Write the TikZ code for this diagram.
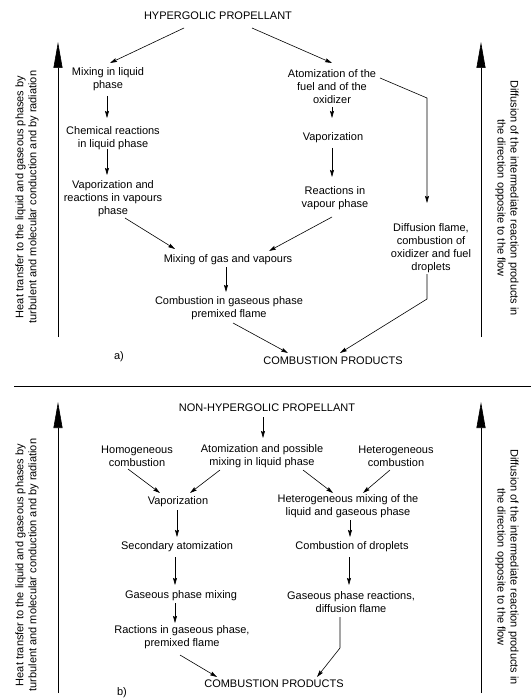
\documentclass[tikz,border=0pt]{standalone}
\usepackage{fontspec}
\setmainfont{Liberation Sans}
\usetikzlibrary{arrows.meta}
\begin{document}
\begin{tikzpicture}[x=1pt,y=-1pt,
  every node/.style={font=\fontsize{11}{13}\selectfont, align=center, inner sep=0pt},
  flow/.style={line width=0.6pt, -{Stealth[length=7pt,width=4pt,inset=1pt]}},
  plain/.style={line width=0.6pt},
  side/.style={line width=0.6pt, -{Triangle[length=26pt,width=9pt]}}]
\useasboundingbox (0,0) rectangle (531,700);

% ---------------- top section (a) ----------------
\node (hyp) at (218,16) {HYPERGOLIC PROPELLANT};
\node (mixliq) at (108,79.5) {Mixing in liquid\\phase};
\node (atom) at (332,86.5) {Atomization of the\\fuel and of the\\oxidizer};
\node (chem) at (113,138) {Chemical reactions\\in liquid phase};
\node (vapa) at (333,138) {Vaporization};
\node (vapreac) at (113,198.5) {Vaporization and\\reactions in vapours\\phase};
\node (reacvap) at (335,198.5) {Reactions in\\vapour phase};
\node (diff) at (431,248) {Diffusion flame,\\combustion of\\oxidizer and fuel\\droplets};
\node (mixgas) at (228,260) {Mixing of gas and vapours};
\node (combg) at (229,308.5) {Combustion in gaseous phase\\premixed flame};
\node (prodA) at (333,361) {COMBUSTION PRODUCTS};
\node (labA) at (119,357) {a)};

\draw[flow] ([shift={(-34,12)}]hyp.center) -- ([shift={(2,-16.5)}]mixliq.center);
\draw[flow] ([shift={(34,12)}]hyp.center) -- ([shift={(0,-23.5)}]atom.center);
\draw[flow] ([shift={(48,-8.5)}]atom.center) -- ([shift={(-4,-150)}]diff.center) -- ([shift={(-4,-45)}]diff.center);
\draw[flow] ([shift={(-1,16.5)}]mixliq.center) -- ([shift={(-6,-20)}]chem.center);
\draw[flow] ([shift={(-6,11)}]chem.center) -- ([shift={(-6,-23.5)}]vapreac.center);
\draw[flow] ([shift={(0,20.5)}]atom.center) -- ([shift={(-1,-20)}]vapa.center);
\draw[flow] ([shift={(-1,10)}]vapa.center) -- ([shift={(-3,-21.5)}]reacvap.center);
\draw[flow] ([shift={(12,19.5)}]vapreac.center) -- ([shift={(-53,-11)}]mixgas.center);
\draw[flow] ([shift={(-3,18.5)}]reacvap.center) -- ([shift={(41,-9)}]mixgas.center);
\draw[flow] ([shift={(-2,7)}]mixgas.center) -- ([shift={(-3,-16.5)}]combg.center);
\draw[flow] ([shift={(4,14.5)}]combg.center) -- ([shift={(-45,-8)}]prodA.center);
\draw[flow] ([shift={(-4,26)}]diff.center) -- ([shift={(-4,51)}]diff.center) -- ([shift={(7,-8)}]prodA.center);

\coordinate (lAb) at (58,337); \coordinate (lAt) at (58,42);
\coordinate (rAb) at (481,337); \coordinate (rAt) at (481,42);
\draw[side] (lAb) -- (lAt);
\draw[side] (rAb) -- (rAt);
\node[rotate=90] (heatA) at (27,197) {Heat transfer to the liquid and gaseous phases by\\turbulent and molecular conduction and by radiation};
\node[rotate=-90] (diffA) at (507,198) {Diffusion of the intermediate reaction products in\\the direction opposite to the flow};

% separator
\coordinate (sepL) at (14,386); \coordinate (sepR) at (531,386);
\draw[plain] (sepL) -- (sepR);

% ---------------- bottom section (b) ----------------
\node (nonhyp) at (267,408) {NON-HYPERGOLIC PROPELLANT};
\node (homog) at (137,456.5) {Homogeneous\\combustion};
\node (atom2) at (262,456.5) {Atomization and possible\\mixing in liquid phase};
\node (heterog) at (396,456.5) {Heterogeneous\\combustion};
\node (vapb) at (178,502) {Vaporization};
\node (hetmix) at (348,506.5) {Heterogeneous mixing of the\\liquid and gaseous phase};
\node (secat) at (177,547) {Secondary atomization};
\node (combdrop) at (352,547) {Combustion of droplets};
\node (gasmix) at (181,596) {Gaseous phase mixing};
\node (gasreac) at (351,602.5) {Gaseous phase reactions,\\diffusion flame};
\node (ract) at (182,637.5) {Ractions in gaseous phase,\\premixed flame};
\node (prodB) at (274,684) {COMBUSTION PRODUCTS};
\node (labB) at (122,693) {b)};

\draw[flow] ([shift={(-4,9)}]nonhyp.center) -- ([shift={(1,-18.5)}]atom2.center);
\draw[flow] ([shift={(-9,12.5)}]homog.center) -- ([shift={(-18,-9)}]vapb.center);
\draw[flow] ([shift={(-42,13.5)}]atom2.center) -- ([shift={(12,-9)}]vapb.center);
\draw[flow] ([shift={(41,13.5)}]atom2.center) -- ([shift={(-15,-13.5)}]hetmix.center);
\draw[flow] ([shift={(-6,13.5)}]heterog.center) -- ([shift={(15,-13.5)}]hetmix.center);
\draw[flow] ([shift={(-1,8)}]vapb.center) -- ([shift={(0,-10)}]secat.center);
\draw[flow] ([shift={(2,13.5)}]hetmix.center) -- ([shift={(-2,-10)}]combdrop.center);
\draw[flow] ([shift={(-2,10)}]secat.center) -- ([shift={(-6,-11)}]gasmix.center);
\draw[flow] ([shift={(-3,10)}]combdrop.center) -- ([shift={(-2,-17.5)}]gasreac.center);
\draw[flow] ([shift={(-6,7)}]gasmix.center) -- ([shift={(-7,-14.5)}]ract.center);
\draw[flow] ([shift={(-2,17.5)}]ract.center) -- ([shift={(-57,-7)}]prodB.center);
\draw[flow] ([shift={(-11,14.5)}]gasreac.center) -- ([shift={(-11,45.5)}]gasreac.center) -- ([shift={(43,-7)}]prodB.center);

\coordinate (lBb) at (58,693); \coordinate (lBt) at (58,402);
\coordinate (rBb) at (481,693); \coordinate (rBt) at (481,402);
\draw[side] (lBb) -- (lBt);
\draw[side] (rBb) -- (rBt);
\node[rotate=90] (heatB) at (27,565) {Heat transfer to the liquid and gaseous phases by\\turbulent and molecular conduction and by radiation};
\node[rotate=-90] (diffB) at (507,567) {Diffusion of the intermediate reaction products in\\the direction opposite to the flow};
\end{tikzpicture}
\end{document}
